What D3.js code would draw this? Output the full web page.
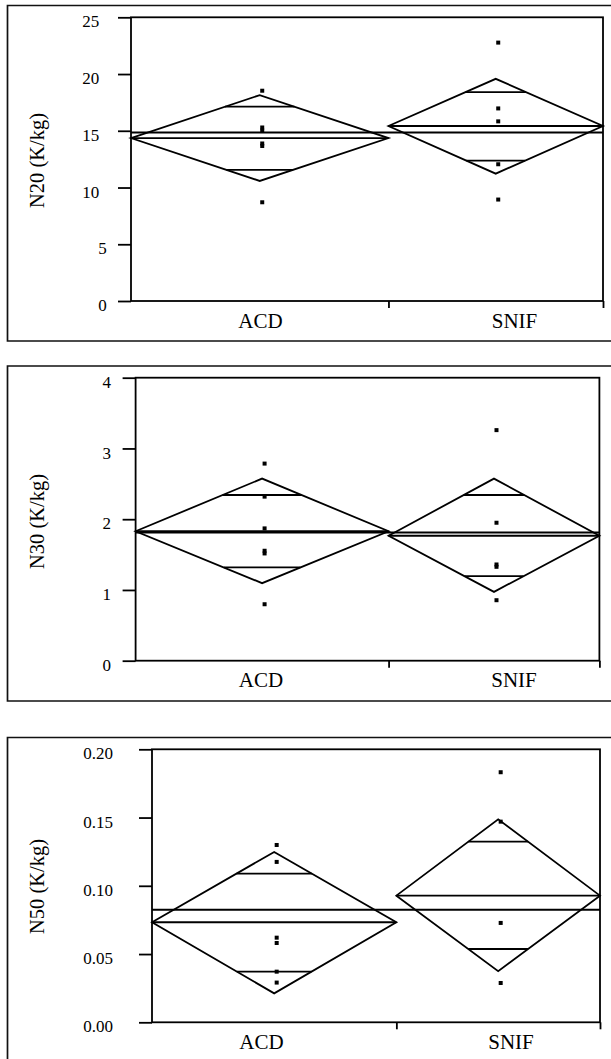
<!DOCTYPE html>
<html>
<head>
<meta charset="utf-8">
<script src="https://cdn.jsdelivr.net/npm/d3@7"></script>
<style>
  body { margin: 0; background: #fff; }
  #chart { width: 611px; height: 1059px; }
  svg text { font-family: "Liberation Serif", "Times New Roman", Times, "DejaVu Serif", serif; fill: #000; }
</style>
</head>
<body>
<div id="chart"></div>
<script>
// groups and sample sizes (diamond width follows n)
var categories = ["ACD", "SNIF"];
var counts = [6, 5];

// N20 panel
var n20Points = [[18.53, 15.29, 15.02, 13.88, 13.66, 8.70], [22.77, 16.97, 15.83, 12.05, 8.94]];
var n20Means = [14.36, 15.42];
var n20CI = [[10.58, 18.14], [11.22, 19.58]];
var n20Overlap = [[11.56, 17.12], [12.37, 18.41]];
var n20Grand = 14.84;
var n20Ticks = [0, 5, 10, 15, 20, 25];

// N30 panel
var n30Points = [[2.786, 2.319, 1.870, 1.554, 1.516, 0.798], [3.259, 1.950, 1.360, 1.327, 0.855]];
var n30Means = [1.83, 1.766];
var n30CI = [[1.096, 2.574], [0.973, 2.574]];
var n30Overlap = [[1.318, 2.342], [1.195, 2.342]];
var n30Grand = 1.813;
var n30Ticks = [0, 1, 2, 3, 4];

// N50 panel
var n50Points = [[0.1299, 0.1175, 0.0620, 0.0581, 0.0371, 0.0291], [0.1832, 0.1470, 0.0728, 0.0288]];
var n50Means = [0.0733, 0.0928];
var n50CI = [[0.0212, 0.1248], [0.0374, 0.1487]];
var n50Overlap = [[0.0371, 0.1089], [0.0537, 0.1323]];
var n50Grand = 0.0825;
var n50Ticks = [0, 0.05, 0.10, 0.15, 0.20];

var serif = "'Liberation Serif', 'Times New Roman', Times, 'DejaVu Serif', serif";

var panels = [
    { title: "N20 (K/kg)", points: n20Points, means: n20Means, ci: n20CI, overlap: n20Overlap, grand: n20Grand,
      ticks: n20Ticks, fmt: d3.format("d"), max: 25,
      left: 131, right: 603, top: 17.3, bottom: 301, frame: [7.5, 5.5, 612, 341],
      labelX: [260.5, 514.5], titleY: 160.5, tickEnd: 99.3 },
    { title: "N30 (K/kg)", points: n30Points, means: n30Means, ci: n30CI, overlap: n30Overlap, grand: n30Grand,
      ticks: n30Ticks, fmt: d3.format("d"), max: 4,
      left: 135.6, right: 599.4, top: 377.7, bottom: 660.7, frame: [7.5, 366, 612, 701],
      labelX: [261, 514], titleY: 521.5, tickEnd: 111 },
    { title: "N50 (K/kg)", points: n50Points, means: n50Means, ci: n50CI, overlap: n50Overlap, grand: n50Grand,
      ticks: n50Ticks, fmt: d3.format(".2f"), max: 0.2,
      left: 152, right: 600, top: 749.3, bottom: 1022.3, frame: [7.5, 737.5, 612, 1075],
      labelX: [261.5, 511], titleY: 886.5, tickEnd: 113 }
];

var width = 611, height = 1059;
var svg = d3.select("#chart")
    .append("svg")
    .attr("width", width)
    .attr("height", height)
    .attr("font-family", serif);

var cum = [0];
counts.forEach(function(c, i) { cum.push(cum[i] + c); });

var lw = 1.8;

panels.forEach(function(p) {

    var g = svg.append("g");

    // outer frame
    g.append("path")
        .attr("d", "M" + p.frame[2] + "," + p.frame[1] + "H" + p.frame[0] + "V" + p.frame[3] + "H" + p.frame[2])
        .attr("fill", "none")
        .attr("stroke", "#111")
        .attr("stroke-width", 1.7);

    var y = d3.scaleLinear().domain([0, p.max]).range([p.bottom, p.top]);
    var x = d3.scaleLinear().domain([0, cum[cum.length - 1]]).range([p.left, p.right]);

    // plot border
    g.append("rect")
        .attr("x", p.left).attr("y", p.top)
        .attr("width", p.right - p.left).attr("height", p.bottom - p.top)
        .attr("fill", "none").attr("stroke", "#000").attr("stroke-width", lw);

    // y axis
    var maxLen = d3.max(p.ticks, function(t) { return p.fmt(t).length; });
    var yAxis = g.append("g")
        .attr("transform", "translate(" + p.left + ",0)")
        .call(d3.axisLeft(y).tickValues(p.ticks).tickSize(13).tickSizeOuter(0).tickFormat(p.fmt))
        .attr("font-family", serif)
        .attr("font-size", 17);
    yAxis.select(".domain").remove();
    yAxis.selectAll(".tick line").attr("stroke", "#000").attr("stroke-width", lw);
    yAxis.selectAll(".tick text")
        .attr("x", function(t) { return p.tickEnd - p.left + (maxLen - p.fmt(t).length) * 7.5; })
        .attr("dy", null)
        .attr("y", 9.6)
        .attr("text-anchor", "end");

    // x axis: group boundaries
    var xAxis = g.append("g")
        .attr("transform", "translate(0," + p.bottom + ")")
        .call(d3.axisBottom(x).tickValues(cum.slice(1)).tickSize(7).tickFormat(""));
    xAxis.select(".domain").remove();
    xAxis.selectAll(".tick line").attr("stroke", "#000").attr("stroke-width", lw);

    // category labels
    g.selectAll(".cat")
        .data(categories)
        .enter()
        .append("text")
        .attr("x", function(d, i) { return p.labelX[i]; })
        .attr("y", p.bottom + 26.5)
        .attr("text-anchor", "middle")
        .attr("font-size", 21)
        .text(function(d) { return d; });

    // y title
    g.append("text")
        .attr("transform", "translate(44," + p.titleY + ") rotate(-90)")
        .attr("text-anchor", "middle")
        .attr("font-size", 20.5)
        .text(p.title);

    // grand mean
    g.append("line")
        .attr("x1", p.left).attr("x2", p.right)
        .attr("y1", y(p.grand)).attr("y2", y(p.grand))
        .attr("stroke", "#000").attr("stroke-width", 2);

    categories.forEach(function(c, i) {
        var x0 = x(cum[i]), x1 = x(cum[i + 1]);
        var cx = (x0 + x1) / 2, hw = (x1 - x0) / 2;
        var m = p.means[i], lo = p.ci[i][0], hi = p.ci[i][1];

        g.append("path")
            .attr("d", "M" + x0 + "," + y(m) + "L" + cx + "," + y(hi) + "L" + x1 + "," + y(m) + "L" + cx + "," + y(lo) + "Z")
            .attr("fill", "none")
            .attr("stroke", "#000")
            .attr("stroke-width", lw);

        // mean line
        g.append("line")
            .attr("x1", x0).attr("x2", x1)
            .attr("y1", y(m)).attr("y2", y(m))
            .attr("stroke", "#000").attr("stroke-width", lw);

        // overlap marks
        p.overlap[i].forEach(function(v) {
            var half = v > m ? (hi - m) : (m - lo);
            var w = hw * (1 - Math.abs(v - m) / half);
            g.append("line")
                .attr("x1", cx - w).attr("x2", cx + w)
                .attr("y1", y(v)).attr("y2", y(v))
                .attr("stroke", "#000").attr("stroke-width", lw);
        });

        // data points
        g.selectAll(".pt" + i)
            .data(p.points[i])
            .enter()
            .append("rect")
            .attr("x", cx + 0.5)
            .attr("y", function(d) { return y(d) - 2; })
            .attr("width", 4)
            .attr("height", 4)
            .attr("fill", "#000");
    });
});
</script>
</body>
</html>
